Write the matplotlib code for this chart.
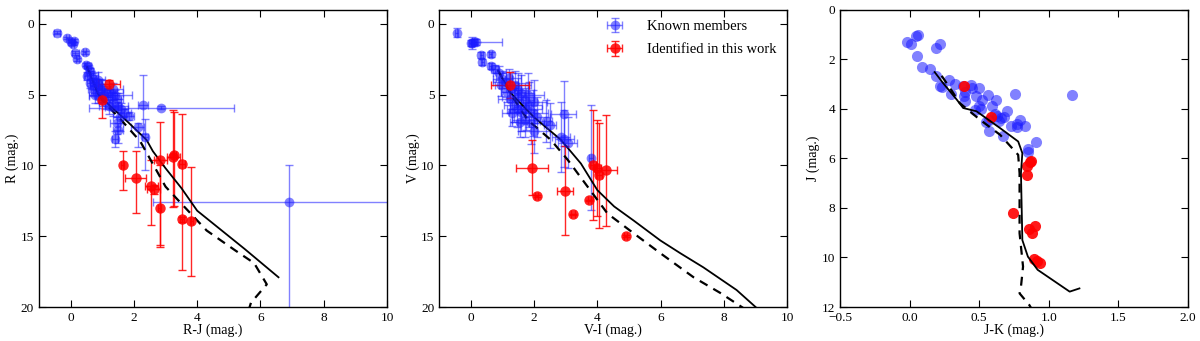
import numpy as np
import matplotlib
matplotlib.use("Agg")
import matplotlib.pyplot as plt

plt.rcParams['font.family'] = ['Liberation Serif', 'DejaVu Serif']
plt.rcParams['mathtext.fontset'] = 'stix'

# ---------------- panel 1: R vs R-J ----------------
# known members: x, y, xerr, yerr_lo, yerr_hi
rj_blue = [-0.44, -0.10, 0.02, 0.10, 0.06, 0.15, 0.44, 0.21, 0.48, 0.55, 0.60, 0.52, 0.65, 0.70,
           0.75, 0.62, 0.80, 0.85, 0.90, 0.70, 0.95, 1.00, 0.78, 0.88, 1.05, 1.15, 1.25, 1.35,
           1.40, 1.45, 1.30, 1.10, 1.20, 1.35, 1.50, 1.60, 1.70, 1.85, 1.55, 1.45, 1.50, 1.40,
           2.28, 2.87, 2.12, 2.35, 6.90]
r_blue = [0.63, 0.99, 1.25, 1.20, 1.40, 2.05, 2.00, 2.50, 2.90, 3.00, 3.30, 3.70, 3.60, 3.90,
          4.10, 4.20, 4.40, 4.00, 4.30, 4.60, 4.70, 4.50, 5.00, 5.10, 5.00, 4.80, 4.90, 4.60,
          5.00, 5.30, 5.30, 5.50, 5.80, 5.90, 5.80, 6.00, 6.30, 6.50, 6.60, 7.00, 7.50, 8.10,
          5.70, 5.93, 7.28, 8.00, 12.60]
rj_blue_xe = [0.10, 0.05, 0.10, 0.05, 0.05, 0.10, 0.05, 0.05, 0.05, 0.10, 0.10, 0.10, 0.20, 0.10,
              0.15, 0.10, 0.20, 0.25, 0.10, 0.15, 0.30, 0.20, 0.20, 0.30, 0.25, 0.30, 0.40, 0.30,
              0.55, 0.20, 0.30, 0.20, 0.30, 0.25, 0.30, 0.20, 0.20, 0.15, 0.20, 0.20, 0.15, 0.10,
              0.15, 2.28, 0.20, 0.10, 4.30]
r_blue_ye_lo = [0.10, 0.05, 0.10, 0.10, 0.10, 0.15, 0.10, 0.10, 0.10, 0.10, 0.20, 0.30, 0.30, 0.40,
                0.30, 0.30, 0.50, 0.60, 0.40, 0.40, 0.80, 0.50, 0.40, 0.30, 0.40, 0.40, 0.30, 0.40,
                0.30, 0.40, 0.40, 0.30, 0.40, 0.50, 0.30, 0.40, 0.30, 0.30, 0.40, 0.40, 0.50, 0.50,
                2.05, 0.10, 0.30, 1.30, 2.60]
r_blue_ye_hi = [0.10, 0.05, 0.10, 0.10, 0.10, 0.15, 0.10, 0.10, 0.10, 0.10, 0.20, 0.30, 0.30, 0.40,
                0.30, 0.30, 0.50, 0.60, 0.40, 0.40, 0.80, 0.50, 0.60, 0.50, 0.40, 0.40, 0.30, 0.40,
                0.30, 0.40, 0.60, 0.50, 0.60, 0.60, 0.30, 0.50, 0.30, 0.30, 1.00, 0.80, 0.90, 0.60,
                2.05, 0.10, 1.40, 2.30, 8.00]

rj_red = [1.21, 1.00, 1.64, 2.06, 2.55, 2.62, 2.81, 2.84, 3.25, 3.27, 3.52, 3.52, 3.81]
r_red = [4.28, 5.36, 9.97, 10.86, 11.45, 11.70, 12.98, 9.64, 9.41, 9.30, 9.87, 13.82, 13.94]
rj_red_xe = [0.35, 0.10, 0.05, 0.33, 0.20, 0.20, 0.05, 0.20, 0.20, 0.05, 0.10, 0.05, 0.05]
r_red_ye_lo = [0.30, 0.40, 1.00, 1.90, 1.80, 0.30, 3.00, 2.70, 3.30, 3.10, 3.50, 0.20, 3.80]
r_red_ye_hi = [0.30, 1.30, 1.80, 2.50, 2.75, 0.30, 2.80, 6.00, 3.50, 3.60, 7.50, 0.20, 3.90]

rj_iso = [0.52, 0.75, 0.86, 1.20, 1.70, 2.40, 2.60, 3.00, 3.50, 4.00, 4.50, 5.50, 6.57]
r_iso = [3.06, 4.30, 4.94, 5.70, 6.70, 8.20, 9.00, 10.20, 11.60, 13.20, 14.10, 15.90, 17.90]
rj_iso2 = [0.52, 0.80, 1.00, 1.60, 2.20, 2.50, 3.00, 3.50, 4.30, 5.20, 5.80, 6.20, 5.70, 5.60]
r_iso2 = [3.06, 4.50, 5.40, 6.80, 8.30, 9.50, 11.50, 12.70, 14.60, 16.00, 16.90, 18.40, 19.70, 20.40]

# ---------------- panel 2: V vs V-I ----------------
vi_blue = [-0.44, 0.00, 0.05, 0.10, 0.15, 0.33, 0.36, 0.63, 0.63, 0.75, 0.90, 1.00, 0.95, 1.10,
           1.20, 1.30, 1.15, 1.40, 1.50, 1.25, 1.35, 1.50, 1.60, 1.70, 1.80, 1.45, 1.60, 1.75,
           1.85, 1.95, 2.00, 1.90, 2.00, 1.70, 2.10, 2.38, 2.50, 2.93, 2.85, 2.95, 3.06, 3.80,
           1.30, 1.55]
v_blue = [0.63, 1.35, 1.35, 1.25, 1.30, 2.20, 2.70, 2.16, 3.00, 3.20, 3.50, 3.90, 4.30, 4.10,
          3.80, 4.50, 4.80, 4.30, 4.70, 5.30, 5.70, 5.20, 4.90, 5.40, 5.00, 6.00, 6.20, 6.00,
          5.70, 6.30, 5.50, 7.00, 7.60, 6.80, 6.60, 6.86, 7.17, 6.35, 8.00, 8.10, 8.40, 9.45,
          6.30, 6.90]
vi_blue_xe_lo = [0.05, 0.05, 0.05, 0.05, 0.05, 0.05, 0.05, 0.05, 0.05, 0.10, 0.20, 0.30, 0.20, 0.40,
                 0.40, 0.30, 0.20, 0.50, 0.30, 0.40, 0.30, 0.50, 0.40, 0.30, 0.50, 0.30, 0.40, 0.50,
                 0.40, 0.50, 0.40, 0.40, 0.50, 0.40, 0.40, 0.20, 0.20, 0.40, 0.30, 0.30, 0.30, 0.05,
                 0.30, 0.30]
vi_blue_xe_hi = [0.05, 0.05, 0.05, 0.90, 0.05, 0.05, 0.05, 0.05, 0.05, 0.10, 0.20, 0.30, 0.20, 0.40,
                 0.40, 0.30, 0.20, 0.50, 0.30, 0.40, 0.30, 0.50, 0.40, 0.30, 0.50, 0.30, 0.40, 0.50,
                 0.40, 0.50, 0.40, 0.40, 0.50, 0.40, 0.40, 0.20, 0.20, 0.40, 0.30, 0.30, 0.30, 0.05,
                 0.30, 0.30]
v_blue_ye = [0.30, 0.20, 0.40, 0.20, 0.20, 0.20, 0.20, 0.20, 0.20, 0.30, 0.50, 0.60, 0.80, 0.70,
             0.60, 1.00, 0.70, 1.00, 1.20, 1.00, 1.20, 1.00, 1.30, 1.20, 1.50, 1.30, 1.40, 1.50,
             1.60, 1.60, 1.50, 1.50, 1.50, 1.20, 1.40, 1.50, 1.60, 2.30, 2.50, 2.00, 1.80, 3.70,
             0.90, 1.10]

vi_red = [1.25, 1.94, 2.08, 2.98, 3.23, 3.74, 3.87, 4.00, 4.05, 4.27, 4.90]
v_red = [4.32, 10.15, 12.15, 11.80, 13.45, 12.46, 9.96, 10.20, 10.70, 10.35, 15.00]
vi_red_xe = [0.60, 0.50, 0.05, 0.25, 0.05, 0.05, 0.10, 0.10, 0.10, 0.35, 0.05]
v_red_ye = [0.90, 1.95, 0.05, 3.15, 0.05, 0.05, 3.90, 3.40, 3.70, 3.90, 0.05]

vi_iso = [0.86, 1.28, 2.00, 2.85, 3.48, 4.00, 4.53, 5.15, 5.99, 6.62, 7.35, 8.40, 9.10]
v_iso = [3.30, 4.94, 6.60, 8.20, 9.87, 11.75, 12.90, 13.90, 15.30, 16.20, 17.20, 18.80, 20.20]
vi_iso2 = [0.86, 1.30, 1.80, 2.53, 3.06, 3.69, 4.32, 5.15, 5.99, 7.04, 7.88, 8.70]
v_iso2 = [3.30, 5.10, 6.80, 8.20, 9.60, 11.50, 13.40, 14.80, 16.20, 17.90, 19.00, 20.20]

# ---------------- panel 3: J vs J-K ----------------
jk_blue = [-0.02, 0.01, 0.045, 0.06, 0.19, 0.22, 0.055, 0.09, 0.15, 0.19, 0.22, 0.23, 0.285, 0.30,
           0.325, 0.385, 0.40, 0.39, 0.40, 0.44, 0.445, 0.50, 0.48, 0.52, 0.50, 0.51, 0.47, 0.56,
           0.62, 0.59, 0.61, 0.63, 0.57, 0.55, 0.57, 0.67, 0.70, 0.66, 0.64, 0.68, 0.79, 0.77,
           0.77, 0.83, 0.76, 0.91, 0.85, 0.85, 1.165, 0.73]
j_blue = [1.31, 1.39, 1.08, 1.03, 1.55, 1.37, 1.86, 2.33, 2.40, 2.67, 3.07, 3.12, 2.83, 3.39,
          2.99, 3.07, 3.31, 3.50, 3.70, 3.06, 3.16, 3.16, 3.50, 3.66, 3.88, 4.00, 4.05, 3.43,
          3.64, 3.88, 4.20, 4.30, 4.45, 4.55, 4.88, 5.09, 4.10, 4.38, 4.50, 4.35, 4.44, 4.60,
          4.75, 4.69, 3.41, 5.35, 5.62, 5.74, 3.43, 4.70]

jk_red = [0.392, 0.584, 0.864, 0.875, 0.84, 0.845, 0.744, 0.904, 0.858, 0.882, 0.892, 0.916, 0.935]
j_red = [3.07, 4.35, 6.13, 6.10, 6.29, 6.69, 8.21, 8.73, 8.86, 9.02, 10.06, 10.13, 10.24]

jk_iso = [0.18, 0.24, 0.34, 0.385, 0.48, 0.65, 0.78, 0.81, 0.80, 0.81, 0.85, 0.92, 1.15, 1.22]
j_iso = [2.52, 2.96, 3.64, 3.97, 4.10, 4.78, 5.32, 5.79, 6.60, 9.30, 9.97, 10.50, 11.38, 11.25]
jk_iso2 = [0.23, 0.29, 0.36, 0.505, 0.65, 0.78, 0.79, 0.79, 0.815, 0.80, 0.79, 0.86, 0.89]
j_iso2 = [2.67, 3.16, 3.77, 4.44, 5.05, 5.86, 6.60, 9.02, 10.37, 11.18, 11.45, 11.92, 12.20]

blue = '#1a1aff'
red = '#ff0000'

fig = plt.figure(figsize=(12, 3.41), dpi=100)
w, h, b = 0.29, 0.872, 0.0997
ax1 = fig.add_axes([0.0325, b, w, h])
ax2 = fig.add_axes([0.366, b, w, h])
ax3 = fig.add_axes([0.700, b, w, h])

# panel 1
ax1.errorbar(rj_blue, r_blue, xerr=rj_blue_xe, yerr=[r_blue_ye_lo, r_blue_ye_hi], fmt='o',
             color=blue, alpha=0.55, ms=7, mec='none', capsize=3, elinewidth=1)
ax1.errorbar(rj_red, r_red, xerr=rj_red_xe, yerr=[r_red_ye_lo, r_red_ye_hi], fmt='o',
             color=red, alpha=0.85, ms=7.5, mec='none', capsize=3, elinewidth=1)
ax1.plot(rj_iso, r_iso, 'k-', lw=1.3)
ax1.plot(rj_iso2, r_iso2, 'k--', lw=1.6, dashes=(4, 3))
ax1.set_xlim(-1, 10)
ax1.set_ylim(20, -1)
ax1.set_xticks([0, 2, 4, 6, 8, 10])
ax1.set_yticks([0, 5, 10, 15, 20])
ax1.set_xlabel('R-J (mag.)', labelpad=0)
ax1.set_ylabel('R (mag.)', labelpad=1)

# panel 2
ax2.errorbar(vi_blue, v_blue, xerr=[vi_blue_xe_lo, vi_blue_xe_hi], yerr=v_blue_ye, fmt='o',
             color=blue, alpha=0.55, ms=7, mec='none', capsize=3, elinewidth=1,
             label='Known members')
ax2.errorbar(vi_red, v_red, xerr=vi_red_xe, yerr=v_red_ye, fmt='o',
             color=red, alpha=0.85, ms=7.5, mec='none', capsize=3, elinewidth=1,
             label='Identified in this work')
ax2.plot(vi_iso, v_iso, 'k-', lw=1.3)
ax2.plot(vi_iso2, v_iso2, 'k--', lw=1.6, dashes=(4, 3))
ax2.set_xlim(-1, 10)
ax2.set_ylim(20, -1)
ax2.set_xticks([0, 2, 4, 6, 8, 10])
ax2.set_yticks([0, 5, 10, 15, 20])
ax2.set_xlabel('V-I (mag.)', labelpad=0)
ax2.set_ylabel('V (mag.)', labelpad=1)
ax2.legend(loc='upper right', frameon=False, fontsize=10.5, handlelength=1.5,
           handletextpad=1.5, borderaxespad=0.3, labelspacing=0.7)

# panel 3
ax3.plot(jk_blue, j_blue, 'o', color=blue, alpha=0.55, ms=8, mec='none')
ax3.plot(jk_red, j_red, 'o', color=red, alpha=0.9, ms=8, mec='none')
ax3.plot(jk_iso, j_iso, 'k-', lw=1.3)
ax3.plot(jk_iso2, j_iso2, 'k--', lw=1.6, dashes=(4, 3))
ax3.set_xlim(-0.5, 2.0)
ax3.set_ylim(12, 0)
ax3.set_xticks([-0.5, 0.0, 0.5, 1.0, 1.5, 2.0])
ax3.set_yticks([0, 2, 4, 6, 8, 10, 12])
ax3.set_xlabel('J-K (mag.)', labelpad=0)
ax3.set_ylabel('J (mag.)', labelpad=1)

for ax in (ax1, ax2, ax3):
    ax.tick_params(direction='in', top=True, right=True, length=5, labelsize=9.5, pad=3.5)
    for s in ax.spines.values():
        s.set_linewidth(1.0)

fig.savefig('out.png', dpi=100)
